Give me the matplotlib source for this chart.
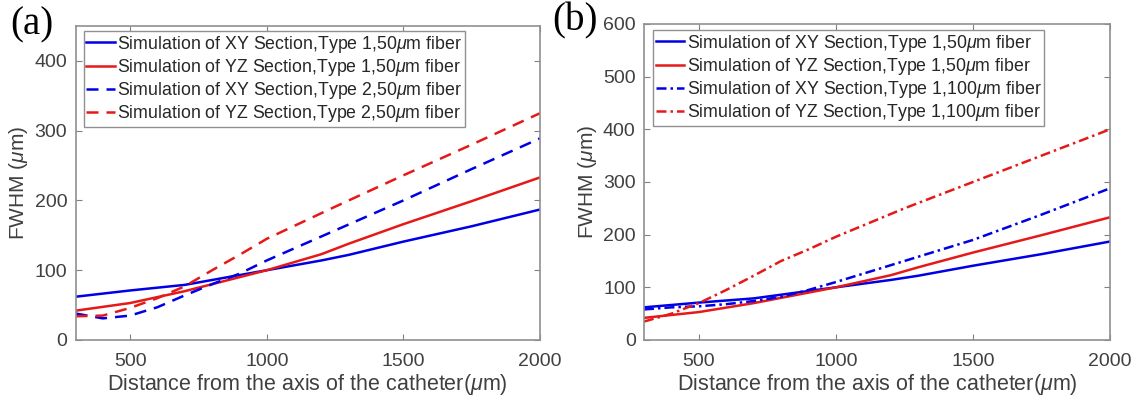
import numpy as np
import matplotlib.pyplot as plt

plt.rcParams['font.family'] = ['Liberation Sans', 'DejaVu Sans']
plt.rcParams['mathtext.fontset'] = 'custom'
plt.rcParams['mathtext.it'] = 'Liberation Sans:italic'
plt.rcParams['mathtext.rm'] = 'Liberation Sans'

# panel (a) data
xa_sol = [300, 500, 700, 900, 1000, 1200, 1300, 1500, 1750, 2000]
xy1_50 = [62, 71, 79, 93, 100, 114, 122, 141, 163, 187]
yz1_50 = [42, 53, 70, 90, 100, 123, 138, 166, 199, 233]

xa_dash = [300, 400, 500, 600, 700, 800, 900, 1000, 1250, 1500, 1750, 2000]
xy2_50 = [38, 31, 35, 47, 64, 80, 95, 114, 157, 200, 245, 289]
yz2_50 = [34, 35, 46, 60, 77, 100, 122, 145, 191, 236, 280, 325]

# panel (b) data
xb_dd = [300, 400, 500, 600, 700, 800, 900, 1000, 1250, 1500, 1750, 2000]
xy1_100 = [58, 62, 64, 68, 74, 82, 95, 110, 150, 190, 238, 288]
yz1_100 = [35, 50, 70, 95, 122, 150, 172, 196, 250, 300, 350, 400]

labels_a = ['Simulation of XY Section,Type 1,50$\\mu$m fiber',
            'Simulation of YZ Section,Type 1,50$\\mu$m fiber',
            'Simulation of XY Section,Type 2,50$\\mu$m fiber',
            'Simulation of YZ Section,Type 2,50$\\mu$m fiber']
labels_b = ['Simulation of XY Section,Type 1,50$\\mu$m fiber',
            'Simulation of YZ Section,Type 1,50$\\mu$m fiber',
            'Simulation of XY Section,Type 1,100$\\mu$m fiber',
            'Simulation of YZ Section,Type 1,100$\\mu$m fiber']

blue = '#0000e6'
red = '#e61919'
gray = '#404040'
dash = (0, (4.8, 3.2))
dashdot = (0, (4, 1.6, 1, 1.6))

W, H = 1137, 405
fig = plt.figure(figsize=(W / 100, H / 100), dpi=100)
# axes boxes in pixels: left, right, top, bottom
box_a = (75.5, 540, 26, 340)
box_b = (644, 1110, 24, 340)
ax1 = fig.add_axes([box_a[0] / W, 1 - box_a[3] / H, (box_a[1] - box_a[0]) / W, (box_a[3] - box_a[2]) / H])
ax2 = fig.add_axes([box_b[0] / W, 1 - box_b[3] / H, (box_b[1] - box_b[0]) / W, (box_b[3] - box_b[2]) / H])

lw = 1.8
ax1.plot(xa_sol, xy1_50, color=blue, lw=lw, label=labels_a[0])
ax1.plot(xa_sol, yz1_50, color=red, lw=lw, label=labels_a[1])
ax1.plot(xa_dash, xy2_50, color=blue, lw=lw, ls=dash, label=labels_a[2])
ax1.plot(xa_dash, yz2_50, color=red, lw=lw, ls=dash, label=labels_a[3])
ax1.set_ylim(0, 450)

ax2.plot(xa_sol, xy1_50, color=blue, lw=lw, label=labels_b[0])
ax2.plot(xa_sol, yz1_50, color=red, lw=lw, label=labels_b[1])
ax2.plot(xb_dd, xy1_100, color=blue, lw=lw, ls=dashdot, label=labels_b[2])
ax2.plot(xb_dd, yz1_100, color=red, lw=lw, ls=dashdot, label=labels_b[3])
ax2.set_ylim(0, 600)

for ax, box, leg_off in [(ax1, box_a, (8, 5)), (ax2, box_b, (9, 6))]:
    ax.set_xlim(300, 2000)
    ax.set_xticks([500, 1000, 1500, 2000])
    ax.tick_params(direction='in', top=True, right=True, length=4,
                   color='#808080', labelsize=14, labelcolor=gray)
    ax.tick_params(axis='x', pad=9)
    ax.tick_params(axis='y', pad=6)
    for s in ax.spines.values():
        s.set_color('#909090')
        s.set_linewidth(1.2)
    ax.set_xlabel('Distance from the axis of the catheter($\\mu$m)', fontsize=15.5, color=gray, labelpad=2)
    ax.set_ylabel('FWHM ($\\mu$m)', fontsize=15, color=gray, labelpad=3)
    bw = box[1] - box[0]
    bh = box[3] - box[2]
    leg = ax.legend(loc='upper left', bbox_to_anchor=(leg_off[0] / bw, 1 - leg_off[1] / bh),
                    borderaxespad=0, fontsize=12.8, handlelength=1.6, handletextpad=0.15,
                    labelspacing=0.12, borderpad=0.15, fancybox=False, framealpha=1)
    leg.get_frame().set_edgecolor('#909090')
    for t in leg.get_texts():
        t.set_color('#262626')

fig.text(10 / W, 1 - 6 / H, '(a)', fontsize=28, family='Liberation Serif', va='top', ha='left')
fig.text(552 / W, 1 - 2 / H, '(b)', fontsize=28, family='Liberation Serif', va='top', ha='left')

fig.savefig('out.png', dpi=100)
